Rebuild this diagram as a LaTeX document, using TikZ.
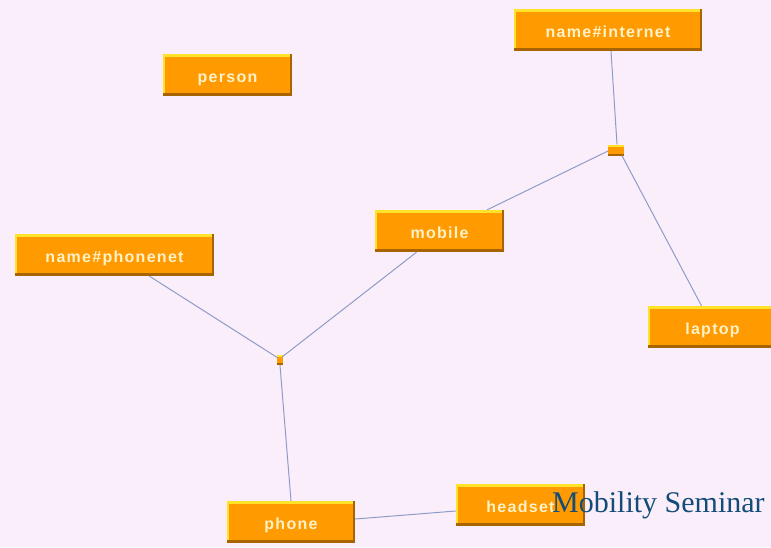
\documentclass[tikz,border=0pt]{standalone}
\usepackage{fontspec}
\newfontfamily\boxfont[LetterSpace=8]{Liberation Sans Bold}
\newfontfamily\titlefont{Liberation Serif}
\definecolor{bg}{HTML}{FBEEFB}
\definecolor{boxorange}{HTML}{FF9A00}
\definecolor{boxhi}{HTML}{FFE22A}
\definecolor{boxlo}{HTML}{A86400}
\definecolor{boxtext}{HTML}{FFF2C8}
\definecolor{wire}{HTML}{8E9CC8}
\definecolor{titleblue}{HTML}{134D77}
\tikzset{
  x=1pt, y=1pt,
  entity/.style={rectangle, fill=boxorange, inner sep=0pt,
    minimum height=42pt, minimum width=#1,
    text height=14pt, text depth=0pt,
    text=boxtext, font=\boxfont\fontsize{16}{16}\selectfont,
    path picture={
      \fill[boxhi] (path picture bounding box.north west) rectangle ([yshift=-3pt]path picture bounding box.north east);
      \fill[boxhi] (path picture bounding box.north west) rectangle ([xshift=2pt]path picture bounding box.south west);
      \fill[boxlo] (path picture bounding box.south west) rectangle ([yshift=3pt]path picture bounding box.south east);
      \fill[boxlo] ([xshift=-2pt]path picture bounding box.north east) rectangle (path picture bounding box.south east);
    }},
  entity/.default=129pt,
  junction/.style={rectangle, fill=boxorange, inner sep=0pt,
    path picture={
      \fill[boxhi] (path picture bounding box.north west) rectangle ([yshift=-2pt]path picture bounding box.north east);
      \fill[boxlo] (path picture bounding box.south west) rectangle ([yshift=2pt]path picture bounding box.south east);
    }},
  wireline/.style={draw=wire, line width=1pt},
}
\begin{document}
\begin{tikzpicture}
\fill[bg] (0,0) rectangle (771,-547);
\useasboundingbox (0,0) rectangle (771,-547);

% entities
\node[entity] (person) at (227.5,-75) {person};
\node[entity=188pt] (internet) at (608,-30) {name\#internet};
\node[entity] (mobile) at (439.5,-231) {mobile};
\node[entity=199pt] (phonenet) at (114.5,-255) {name\#phonenet};
\node[entity] (laptop) at (712.5,-327) {laptop};
\node[entity=128pt] (phone) at (291,-522) {phone};
\node[entity] (headset) at (520.5,-505) {headset};

% relation junctions
\node[junction, minimum width=16pt, minimum height=11pt] (jnet) at (616,-150) {};
\node[junction, minimum width=6pt, minimum height=10pt] (jphone) at (280,-360) {};

% connectors
\draw[wireline] ([xshift=3pt]internet.south) -- ([xshift=1pt]jnet.north);
\draw[wireline] ([xshift=-8pt,yshift=-1pt]jnet.center) -- ([xshift=-17pt]mobile.north east);
\draw[wireline] ([xshift=6pt]jnet.south) -- ([xshift=-11pt]laptop.north);
\draw[wireline] ([xshift=35pt]phonenet.south) -- ([xshift=-2pt,yshift=2pt]jphone.center);
\draw[wireline] ([xshift=-23pt]mobile.south) -- ([xshift=2pt,yshift=3pt]jphone.center);
\draw[wireline] (jphone.south) -- (phone.north);
\draw[wireline] ([yshift=3pt]phone.east) -- ([yshift=-6pt]headset.west);

% footer title
\node[anchor=base west, inner sep=0pt, text=titleblue,
  font=\titlefont\fontsize{30}{30}\selectfont] (title) at (552,-512) {Mobility Seminar};
\end{tikzpicture}
\end{document}
